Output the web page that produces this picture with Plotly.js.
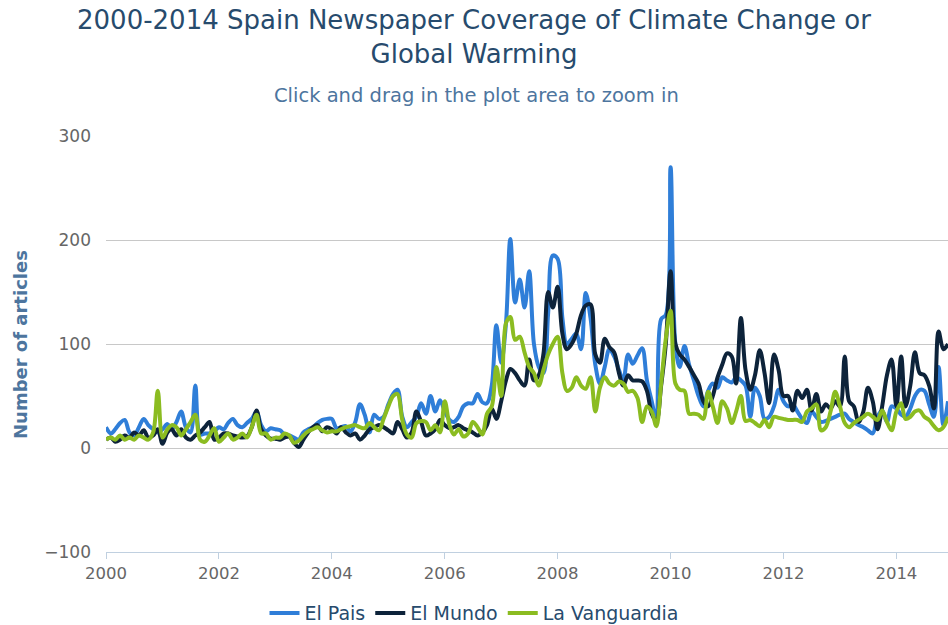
<!DOCTYPE html>
<html>
<head>
<meta charset="utf-8">
<script src="https://cdn.plot.ly/plotly-3.0.1.min.js"></script>
<style>html,body{margin:0;padding:0;background:#fff;}#chart{width:948px;height:625px;}</style>
</head>
<body>
<div id="chart"></div>
<script>
// Monthly article counts, Jan 2000 .. Dec 2014
const startYear = 2000;
const endYear = 2014;

const elPais = [
  20,14,18,24,27,15,12,20,28,22,
  18,15,18,23,18,25,35,20,15,60,
  13,14,14,16,20,18,24,28,22,20,
  24,28,35,22,16,19,18,17,13,12,
  10,8,15,18,20,24,27,28,28,19,
  20,21,16,25,42,32,15,32,28,30,
  42,52,56,30,20,25,30,43,33,50,
  35,46,35,27,25,30,40,43,43,52,
  44,43,60,118,82,120,201,140,162,135,
  170,100,78,72,130,185,182,125,100,105,
  110,95,149,125,80,62,78,95,88,75,
  65,90,81,89,96,65,45,27,124,128,
  270,100,78,98,80,65,50,40,55,62,
  58,68,65,63,68,65,60,30,58,50,
  28,30,40,56,45,40,42,35,28,24,
  35,30,25,26,28,30,32,33,28,25,
  22,20,17,14,30,36,25,40,38,32,
  30,38,50,56,55,42,30,78,22,45
];

const elMundo = [
  8,10,6,8,12,10,15,12,17,10,
  12,18,4,15,18,12,18,10,8,12,
  15,20,25,8,10,14,14,12,11,10,
  11,20,36,18,12,9,9,8,10,11,
  5,1,8,15,20,22,16,20,18,14,
  20,15,12,14,8,12,18,20,22,20,
  17,14,25,18,10,15,35,25,12,14,
  18,27,22,19,20,22,19,17,15,12,
  15,22,38,28,45,65,76,72,65,60,
  85,65,70,90,150,135,155,110,95,100,
  110,128,137,138,90,82,105,97,92,72,
  60,70,65,65,64,55,33,26,60,100,
  170,100,90,85,78,70,62,45,40,50,
  68,80,91,88,62,125,75,56,70,94,
  72,43,90,75,50,50,36,55,48,56,
  36,52,35,42,38,45,40,88,45,40,
  25,35,58,45,18,40,70,85,40,88,
  40,60,92,72,70,60,38,112,95,100
];

const laVanguardia = [
  8,10,8,12,8,10,8,12,10,8,
  15,55,10,18,22,20,12,18,25,32,
  8,6,12,19,6,10,14,8,10,14,
  10,20,32,14,14,8,10,10,14,12,
  5,7,12,16,18,20,17,15,16,16,
  18,20,21,22,20,19,24,20,17,28,
  40,50,52,27,13,10,24,26,25,17,
  22,15,45,22,13,18,11,14,25,20,
  13,33,40,78,50,120,126,104,107,92,
  78,72,60,75,90,100,107,72,55,58,
  68,60,57,68,35,58,68,62,60,64,
  62,54,55,48,25,40,35,21,62,105,
  132,62,56,55,33,33,32,28,54,40,
  24,45,38,24,35,50,26,27,24,21,
  27,20,30,29,28,27,27,27,25,35,
  38,42,17,20,35,54,40,24,20,24,
  27,30,33,30,27,36,25,17,35,43,
  28,30,35,36,30,27,21,17,20,30
];

const seriesNames = ['El Pais', 'El Mundo', 'La Vanguardia'];
const seriesColors = ['#2f7ed8', '#0d233a', '#8bbc21'];
const yTicks = [-100, 0, 100, 200, 300];

// month dates
const months = [];
for (let y = startYear; y <= endYear; y++) {
  for (let m = 1; m <= 12; m++) {
    months.push(y + '-' + String(m).padStart(2, '0') + '-01');
  }
}

const font = 'DejaVu Sans, Verdana, sans-serif';
const data = [elPais, elMundo, laVanguardia].map((vals, i) => ({
  type: 'scatter',
  mode: 'lines',
  name: seriesNames[i],
  x: months.slice(0, vals.length),
  y: vals,
  line: {color: seriesColors[i], width: 4, shape: 'spline', smoothing: 1}
}));

const plotTop = 136, plotBottom = 552, plotLeft = 106, plotWidth = 842;
const py = p => 1 + (plotTop - p) / (plotBottom - plotTop);
const px = p => (p - plotLeft) / plotWidth;

const layout = {
  width: 948,
  height: 625,
  margin: {l: 106, r: 0, t: 136, b: 73},
  paper_bgcolor: '#ffffff',
  plot_bgcolor: '#ffffff',
  font: {family: font, color: '#666666'},
  title: {
    text: '2000-2014 Spain Newspaper Coverage of Climate Change or<br>Global Warming',
    font: {family: font, size: 26, color: '#274b6d'},
    x: 0.5, xref: 'container', xanchor: 'center',
    y: 1 - 29 / 625, yref: 'container', yanchor: 'top'
  },
  xaxis: {
    type: 'date',
    range: ['2000-01-01', '2014-12-01'],
    tick0: '2000-01-01',
    dtick: 'M24',
    tickformat: '%Y',
    showgrid: false,
    zeroline: false,
    showline: true,
    linecolor: '#C0D0E0',
    linewidth: 1,
    ticks: 'outside',
    ticklen: 6,
    tickcolor: '#C0D0E0',
    tickfont: {family: font, size: 16.5, color: '#666666'}
  },
  yaxis: {
    range: [-100, 300],
    tickvals: yTicks,
    showgrid: true,
    gridcolor: '#C8C8C8',
    gridwidth: 1,
    zeroline: false,
    showline: false,
    ticks: '',
    ticklabelstandoff: 14,
    tickfont: {family: font, size: 17, color: '#666666'}
  },
  showlegend: true,
  legend: {
    orientation: 'h',
    x: 0.5, xref: 'container', xanchor: 'center',
    y: 0.019, yref: 'container', yanchor: 'middle',
    font: {family: font, size: 19, color: '#274b6d'},
    bgcolor: 'rgba(0,0,0,0)'
  },
  annotations: [
    {
      text: 'Click and drag in the plot area to zoom in',
      xref: 'paper', yref: 'paper',
      x: px(476), y: py(96),
      xanchor: 'center', yanchor: 'middle',
      showarrow: false,
      font: {family: font, size: 19.5, color: '#4d759e'}
    },
    {
      text: 'Number of articles',
      xref: 'paper', yref: 'paper',
      x: px(20), y: (plotBottom - 345) / (plotBottom - plotTop),
      xanchor: 'center', yanchor: 'middle',
      textangle: -90,
      showarrow: false,
      font: {family: font, size: 18, color: '#4d759e', weight: 'bold'}
    }
  ]
};

Plotly.newPlot('chart', data, layout, {staticPlot: true, displayModeBar: false});
</script>
</body>
</html>
